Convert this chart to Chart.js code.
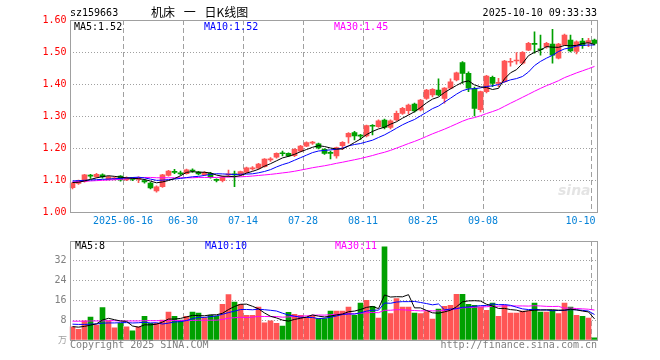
<!DOCTYPE html>
<html><head><meta charset="utf-8">
<script src="https://cdn.jsdelivr.net/npm/chart.js@4.4.1/dist/chart.umd.min.js"></script>
<style>
html,body{margin:0;padding:0;background:#fff;}
#wrap{position:relative;width:660px;height:360px;overflow:hidden;background:#fff;}
#c1{position:absolute;left:0;top:0;width:660px;height:232px;}
#c2{position:absolute;left:0;top:232px;width:660px;height:128px;}
</style></head><body>
<div id="wrap"><canvas id="c1" width="660" height="232"></canvas><canvas id="c2" width="660" height="128"></canvas></div>
<script>
// ---------- data ----------
const dates = ['06-03','06-04','06-05','06-06','06-09','06-10','06-11','06-12','06-13','06-16','06-17','06-18','06-19','06-20','06-23','06-24','06-25','06-26','06-27','06-30',
'07-01','07-02','07-03','07-04','07-07','07-08','07-09','07-10','07-11','07-14','07-15','07-16','07-17','07-18','07-21','07-22','07-23','07-24','07-25','07-28','07-29','07-30','07-31',
'08-01','08-04','08-05','08-06','08-07','08-08','08-11','08-12','08-13','08-14','08-15','08-18','08-19','08-20','08-21','08-22','08-25','08-26','08-27','08-28','08-29',
'09-01','09-02','09-03','09-04','09-05','09-08','09-09','09-10','09-11','09-12','09-15','09-16','09-17','09-18','09-19','09-22','09-23','09-24','09-25','09-26','09-29','09-30',
'10-09','10-10'];
const open  = [1.076,1.089,1.095,1.114,1.110,1.116,1.102,1.104,1.112,1.100,1.106,1.102,1.098,1.090,1.066,1.079,1.114,1.126,1.122,1.120,
1.130,1.125,1.117,1.121,1.102,1.098,1.116,1.119,1.116,1.124,1.135,1.137,1.142,1.163,1.171,1.184,1.183,1.176,1.190,1.206,1.215,1.213,1.196,
1.185,1.175,1.207,1.235,1.248,1.239,1.238,1.271,1.267,1.287,1.264,1.288,1.308,1.317,1.337,1.319,1.355,1.366,1.381,1.355,1.387,
1.413,1.467,1.433,1.386,1.320,1.376,1.421,1.402,1.407,1.468,1.472,1.465,1.506,1.527,1.510,1.517,1.525,1.481,1.522,1.537,1.502,1.534,
1.529,1.537];
const high  = [1.093,1.100,1.118,1.118,1.121,1.119,1.112,1.110,1.114,1.110,1.108,1.110,1.102,1.093,1.082,1.118,1.130,1.133,1.128,1.134,
1.135,1.127,1.126,1.124,1.104,1.112,1.131,1.128,1.128,1.140,1.142,1.152,1.167,1.170,1.185,1.190,1.185,1.198,1.208,1.219,1.221,1.215,1.198,
1.190,1.203,1.220,1.248,1.252,1.243,1.272,1.273,1.288,1.290,1.288,1.315,1.327,1.337,1.340,1.352,1.383,1.386,1.416,1.389,1.416,
1.437,1.470,1.438,1.390,1.378,1.427,1.425,1.418,1.474,1.480,1.498,1.501,1.530,1.563,1.553,1.530,1.571,1.527,1.556,1.553,1.535,1.543,
1.543,1.540];
const low   = [1.072,1.086,1.093,1.105,1.108,1.106,1.100,1.100,1.096,1.098,1.098,1.092,1.090,1.072,1.062,1.077,1.112,1.120,1.115,1.118,
1.124,1.116,1.114,1.106,1.094,1.094,1.110,1.079,1.113,1.122,1.131,1.134,1.140,1.158,1.168,1.175,1.173,1.173,1.188,1.204,1.211,1.197,1.180,
1.166,1.168,1.195,1.215,1.225,1.227,1.235,1.241,1.264,1.260,1.260,1.285,1.305,1.306,1.312,1.316,1.352,1.360,1.363,1.340,1.385,
1.410,1.402,1.376,1.300,1.313,1.372,1.392,1.392,1.405,1.456,1.462,1.462,1.504,1.496,1.490,1.512,1.465,1.478,1.520,1.500,1.494,1.511,
1.517,1.522];
const close = [1.090,1.097,1.116,1.112,1.118,1.110,1.110,1.107,1.100,1.106,1.102,1.106,1.094,1.075,1.079,1.116,1.128,1.124,1.119,1.132,
1.128,1.119,1.123,1.108,1.099,1.110,1.118,1.116,1.126,1.138,1.137,1.150,1.165,1.165,1.183,1.182,1.175,1.196,1.206,1.217,1.217,1.200,1.183,
1.183,1.201,1.218,1.246,1.238,1.237,1.270,1.268,1.285,1.264,1.285,1.308,1.324,1.334,1.316,1.350,1.381,1.383,1.366,1.387,1.407,
1.435,1.433,1.387,1.324,1.376,1.425,1.402,1.405,1.472,1.471,1.474,1.499,1.527,1.524,1.507,1.527,1.490,1.525,1.553,1.503,1.532,1.520,
1.536,1.527];
// volume (万手)
const volume = [5.3,4.3,7.7,9.3,6.0,13.1,7.7,4.9,6.7,5.3,3.7,5.3,9.6,6.7,6.7,8.0,11.3,9.6,8.0,9.6,
11.3,10.9,9.1,10.0,9.6,14.4,18.4,15.3,14.4,10.0,10.0,13.3,6.9,7.7,6.7,5.6,11.2,10.4,10.0,9.1,10.0,8.7,8.7,
11.7,11.7,11.7,13.3,10.0,14.9,16.0,13.6,8.9,37.6,10.7,16.7,13.3,13.3,10.9,10.7,11.5,8.5,12.5,13.6,14.0,
18.5,18.5,14.4,14.0,13.3,12.0,14.9,9.6,14.0,10.9,10.9,11.7,11.7,14.9,11.3,11.3,12.0,10.7,14.9,13.3,10.0,9.6,
8.9,0.9];
// moving-average values before enough in-window history
const ma5Head  = [1.092,1.093,1.097,1.102];
const ma10Head = [1.097,1.098,1.099,1.100,1.101,1.102,1.103,1.104,1.105];
const ma30Head = [1.094,1.095,1.096,1.097,1.098,1.099,1.100,1.101,1.102,1.104,1.106,1.107,1.108,1.108,1.107,1.107,1.107,1.107,1.107,1.107,1.107,1.108,1.108,1.108,1.108,1.109,1.109,1.110,1.110];
const vma5Head  = [5.4,5.2,5.5,6.0];
const vma10Head = [6.4,6.3,6.3,6.4,6.5,6.8,6.9,6.9,7.0];
const vma30Head = [7.6,7.6,7.6,7.7,7.7,7.7,7.8,7.8,7.7,7.7,7.7,7.7,7.8,7.8,7.8,7.8,7.9,7.9,7.9,7.9,7.9,8.0,8.0,8.0,8.0,8.3,8.8,9.0,9.2];
const tickDates  = ['06-16','06-30','07-14','07-28','08-11','08-25','09-08','10-10'];
const tickLabels = ['2025-06-16','06-30','07-14','07-28','08-11','08-25','09-08','10-10'];
const priceTicks = [1.00,1.10,1.20,1.30,1.40,1.50,1.60];
const volTicks   = [8,16,24,32];
const priceLegend = ['MA5:1.52','MA10:1.52','MA30:1.45'];
const volLegend   = ['MA5:8','MA10:10','MA30:11'];

// ---------- helpers ----------
function movAvg(arr, n, head){
  return arr.map((v,i)=>{
    if(i < n-1) return head[i];
    let s=0; for(let k=i-n+1;k<=i;k++) s+=arr[k]; return s/n;
  });
}
const MONO = '"DejaVu Sans Mono","Liberation Mono",monospace';
const RED = '#ff5555', GREEN = '#00a000';
const colors = close.map((c,i)=> c >= open[i] ? RED : GREEN);
const tickIdx = tickDates.map(d=>dates.indexOf(d));
const gridColor = ctx => tickIdx.includes(ctx.index) ? '#a0a0a0' : 'rgba(0,0,0,0)';
const lineDs = (label,data,color) => ({type:'line',label,data,borderColor:color,borderWidth:1,pointRadius:0,tension:0,order:0,fill:false});

const framePlugin = {
  id:'frame',
  afterDraw(chart){
    const a = chart.chartArea, c = chart.ctx;
    c.save(); c.strokeStyle='#a0a0a0'; c.lineWidth=1;
    c.strokeRect(Math.round(a.left)+0.5, Math.round(a.top)+0.5, Math.round(a.right)-Math.round(a.left)-1, Math.round(a.bottom)-Math.round(a.top));
    c.restore();
  }
};

// ---------- price chart ----------
const topText = {
  id:'topText',
  afterDraw(chart){
    const c = chart.ctx, a = chart.chartArea, xs = chart.scales.x;
    c.save();
    c.textBaseline='middle';
    c.font='10px '+MONO; c.fillStyle='#000'; c.textAlign='left';
    c.fillText('sz159663', 70, 13);
    c.textAlign='right';
    c.fillText('2025-10-10 09:33:33', 597, 13);
    c.textAlign='left';
    c.font='12px "Noto Sans CJK SC"';
    c.fillText('机床\u2002 一\u2002 日K线图', 151, 12);
    // legend
    c.font='10px '+MONO;
    c.fillStyle='#000'; c.fillText(priceLegend[0], 74, 27);
    c.fillStyle='#0000ff'; c.fillText(priceLegend[1], 204, 27);
    c.fillStyle='#ff00ff'; c.fillText(priceLegend[2], 334, 27);
    // x labels
    c.fillStyle='#0582d8'; c.textAlign='center';
    tickIdx.forEach((idx,k)=>{
      let x = xs.getPixelForValue(idx) - 3.5;
      const w = c.measureText(tickLabels[k]).width;
      if (x + w/2 > a.right - 2) x = a.right - 2 - w/2;
      c.fillText(tickLabels[k], x, 221);
    });
    // watermark
    c.fillStyle='rgba(205,205,205,0.55)'; c.font='italic bold 14px "DejaVu Sans"'; c.textAlign='left';
    c.fillText('sina', 558, 191);
    c.restore();
  }
};

new Chart(document.getElementById('c1'), {
  type:'bar',
  data:{ labels:dates, datasets:[
    lineDs('MA5', movAvg(close,5,ma5Head), '#000000'),
    lineDs('MA10', movAvg(close,10,ma10Head), '#0000ff'),
    lineDs('MA30', movAvg(close,30,ma30Head), '#ff00ff'),
    {label:'wick', data: low.map((l,i)=>[l,high[i]]), backgroundColor:colors, barThickness:1, grouped:false, order:2},
    {label:'body', data: open.map((o,i)=>[Math.min(o,close[i]),Math.max(o,close[i])]), backgroundColor:colors, barThickness:5, grouped:false, minBarLength:1, order:1}
  ]},
  options:{
    responsive:false, animation:false, devicePixelRatio:1,
    layout:{padding:{left:0,right:62.5,top:20,bottom:0}},
    plugins:{legend:{display:false}, tooltip:{enabled:false}},
    scales:{
      x:{ offset:true, grid:{offset:true, color:gridColor, lineWidth:1, drawTicks:false},
          border:{display:false, dash:[5,3]}, ticks:{display:false, autoSkip:false},
          afterFit:s=>{s.height=20;} },
      y:{ min:priceTicks[0], max:priceTicks[priceTicks.length-1],
          afterBuildTicks:s=>{s.ticks = priceTicks.map(v=>({value:v}));},
          ticks:{callback:v=>Number(v).toFixed(2), color:'#ff0000', font:{family:MONO,size:10}, padding:3},
          grid:{color:ctx=>(ctx.tick && (ctx.tick.value===priceTicks[0]||ctx.tick.value===priceTicks[priceTicks.length-1]))?'rgba(0,0,0,0)':'#a0a0a0', drawTicks:false},
          border:{display:false, dash:[1,2]},
          afterFit:s=>{s.width=69.5;} }
    }
  },
  plugins:[framePlugin, topText]
});

// ---------- volume chart ----------
const volText = {
  id:'volText',
  afterDraw(chart){
    const c = chart.ctx;
    c.save(); c.textBaseline='middle'; c.font='10px '+MONO; c.textAlign='left';
    c.fillStyle='#000'; c.fillText(volLegend[0], 75, 14.5);
    c.fillStyle='#0000ff'; c.fillText(volLegend[1], 205, 14.5);
    c.fillStyle='#ff00ff'; c.fillText(volLegend[2], 335, 14.5);
    c.fillStyle='#808080';
    c.fillText('Copyright 2025 SINA.COM', 70, 113.5);
    c.textAlign='right';
    c.fillText('http://finance.sina.com.cn', 597, 113.5);
    c.font='9px "Noto Sans CJK SC"'; c.fillStyle='#a0a0a0';
    c.fillText('万', 67, 108);
    c.restore();
  }
};

new Chart(document.getElementById('c2'), {
  type:'bar',
  data:{ labels:dates, datasets:[
    lineDs('MA5', movAvg(volume,5,vma5Head), '#000000'),
    lineDs('MA10', movAvg(volume,10,vma10Head), '#0000ff'),
    lineDs('MA30', movAvg(volume,30,vma30Head), '#ff00ff'),
    {label:'vol', data:volume, backgroundColor:colors, barThickness:5, order:1}
  ]},
  options:{
    responsive:false, animation:false, devicePixelRatio:1,
    layout:{padding:{left:0,right:62.5,top:8,bottom:0}},
    plugins:{legend:{display:false}, tooltip:{enabled:false}},
    scales:{
      x:{ offset:true, grid:{offset:true, color:gridColor, lineWidth:1, drawTicks:false},
          border:{display:false, dash:[5,3]}, ticks:{display:false, autoSkip:false},
          afterFit:s=>{s.height=20;} },
      y:{ min:0, max:40,
          afterBuildTicks:s=>{s.ticks = [0].concat(volTicks,[40]).map(v=>({value:v}));},
          ticks:{callback:v=>volTicks.includes(v)?String(v):'', color:'#808080', font:{family:MONO,size:10}, padding:3},
          grid:{color:ctx=>(ctx.tick && volTicks.includes(ctx.tick.value))?'#a0a0a0':'rgba(0,0,0,0)', drawTicks:false},
          border:{display:false, dash:[1,2]},
          afterFit:s=>{s.width=69.5;} }
    }
  },
  plugins:[framePlugin, volText]
});
</script>
</body></html>
